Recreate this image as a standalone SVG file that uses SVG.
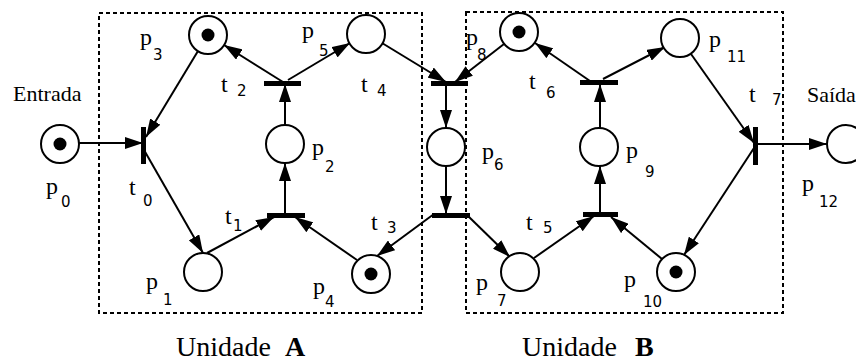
<svg xmlns="http://www.w3.org/2000/svg" width="856" height="362" viewBox="0 0 856 362">
<defs>
<marker id="ah" markerUnits="userSpaceOnUse" markerWidth="18" markerHeight="12" refX="18" refY="6" orient="auto">
<path d="M0,0 L18,6 L0,12 z" fill="#000"/>
</marker>
</defs>
<style>
.pl{fill:#fff;stroke:#000;stroke-width:2}
.tk{fill:#000}
.tr{fill:#000}
.arc{stroke:#000;stroke-width:2;fill:none;marker-end:url(#ah)}
.box{fill:none;stroke:#000;stroke-width:2;stroke-dasharray:4,3}
.lb{font-size:24px;fill:#000}
.sb{font-size:15px;fill:#000}
.tx{font-size:22px;fill:#000}
.un{font-size:28px;fill:#000}
.bd{font-weight:bold}
</style>
<rect class="box" x="99" y="13" width="323" height="300"/>
<rect class="box" x="466" y="12" width="317" height="301"/>
<g id="connectors">
<path class="arc" d="M79,143 L143,143"/>
<path class="arc" d="M198,51 L146,137"/>
<path class="arc" d="M144,150 L203,253"/>
<path class="arc" d="M207,253 L274,217"/>
<path class="arc" d="M357,260 L295,217"/>
<path class="arc" d="M285,213 L285,163"/>
<path class="arc" d="M285,125 L285,84"/>
<path class="arc" d="M283,82 L224,45"/>
<path class="arc" d="M288,80 L350,43"/>
<path class="arc" d="M382,43 L446,82"/>
<path class="arc" d="M504,44 L455,82"/>
<path class="arc" d="M446,86 L446,128"/>
<path class="arc" d="M446,166 L446,214"/>
<path class="arc" d="M434,214 L377,256"/>
<path class="arc" d="M468,216 L510,257"/>
<path class="arc" d="M534,258 L594,216"/>
<path class="arc" d="M662,259 L611,217"/>
<path class="arc" d="M600,212 L600,166"/>
<path class="arc" d="M600,128 L600,84"/>
<path class="arc" d="M590,81 L535,43"/>
<path class="arc" d="M603,79 L665,47"/>
<path class="arc" d="M691,54 L754,143"/>
<path class="arc" d="M754,148 L684,255"/>
<path class="arc" d="M757,144 L827,144"/>
</g>
<g font-family="Liberation Serif, Times New Roman, serif">
<g id="t0"><rect class="tr" x="141" y="127" width="5" height="37"/><text class="lb" x="129" y="195">t</text><text class="sb" font-family="DejaVu Sans, sans-serif" x="143" y="206">0</text></g>
<g id="t1"><rect class="tr" x="267" y="213" width="38" height="5"/><text class="lb" x="225" y="224">t</text><text class="sb" font-family="DejaVu Sans, sans-serif" x="233" y="231">1</text></g>
<g id="t2"><rect class="tr" x="264" y="81" width="37" height="5"/><text class="lb" x="221" y="92">t</text><text class="sb" font-family="DejaVu Sans, sans-serif" x="237" y="96">2</text></g>
<g id="t3"><rect class="tr" x="432" y="213" width="38" height="5"/><text class="lb" x="371" y="230">t</text><text class="sb" font-family="DejaVu Sans, sans-serif" x="387" y="233">3</text></g>
<g id="t4"><rect class="tr" x="431" y="81" width="37" height="5"/><text class="lb" x="361" y="92">t</text><text class="sb" font-family="DejaVu Sans, sans-serif" x="377" y="96">4</text></g>
<g id="t5"><rect class="tr" x="583" y="212" width="35" height="5"/><text class="lb" x="526" y="230">t</text><text class="sb" font-family="DejaVu Sans, sans-serif" x="543" y="233">5</text></g>
<g id="t6"><rect class="tr" x="580" y="80" width="38" height="5"/><text class="lb" x="529" y="89">t</text><text class="sb" font-family="DejaVu Sans, sans-serif" x="546" y="98">6</text></g>
<g id="t7"><rect class="tr" x="753" y="127" width="5" height="38"/><text class="lb" x="749" y="102">t</text><text class="sb" font-family="DejaVu Sans, sans-serif" x="772" y="105">7</text></g>
<g id="p0"><circle class="pl" cx="60" cy="144" r="19"/><circle class="tk" cx="60" cy="144" r="6.5"/><text class="lb" x="46" y="194">p</text><text class="sb" font-family="DejaVu Sans, sans-serif" x="61" y="207">0</text></g>
<g id="p1"><circle class="pl" cx="203" cy="272" r="19"/><text class="lb" x="146" y="289">p</text><text class="sb" font-family="DejaVu Sans, sans-serif" x="163" y="305">1</text></g>
<g id="p2"><circle class="pl" cx="285" cy="144" r="19"/><text class="lb" x="312" y="155">p</text><text class="sb" font-family="DejaVu Sans, sans-serif" x="325" y="172">2</text></g>
<g id="p3"><circle class="pl" cx="208" cy="35" r="19"/><circle class="tk" cx="208" cy="35" r="6.5"/><text class="lb" x="140" y="45">p</text><text class="sb" font-family="DejaVu Sans, sans-serif" x="153" y="60">3</text></g>
<g id="p4"><circle class="pl" cx="371" cy="274" r="19"/><circle class="tk" cx="371" cy="274" r="6.5"/><text class="lb" x="313" y="294">p</text><text class="sb" font-family="DejaVu Sans, sans-serif" x="325" y="307">4</text></g>
<g id="p5"><circle class="pl" cx="366" cy="34" r="19"/><text class="lb" x="302" y="38">p</text><text class="sb" font-family="DejaVu Sans, sans-serif" x="319" y="56">5</text></g>
<g id="p6"><circle class="pl" cx="446" cy="147" r="19"/><text class="lb" x="482" y="159">p</text><text class="sb" font-family="DejaVu Sans, sans-serif" x="494" y="170">6</text></g>
<g id="p7"><circle class="pl" cx="520" cy="272" r="19"/><text class="lb" x="476" y="290">p</text><text class="sb" font-family="DejaVu Sans, sans-serif" x="497" y="306">7</text></g>
<g id="p8"><circle class="pl" cx="519" cy="32" r="19"/><circle class="tk" cx="519" cy="32" r="6.5"/><text class="lb" x="466" y="45">p</text><text class="sb" font-family="DejaVu Sans, sans-serif" x="477" y="60">8</text></g>
<g id="p9"><circle class="pl" cx="599" cy="147" r="19"/><text class="lb" x="626" y="158">p</text><text class="sb" font-family="DejaVu Sans, sans-serif" x="645" y="177">9</text></g>
<g id="p10"><circle class="pl" cx="676" cy="272" r="19"/><circle class="tk" cx="676" cy="272" r="6.5"/><text class="lb" x="624" y="287">p</text><text class="sb" font-family="DejaVu Sans, sans-serif" x="643" y="307">10</text></g>
<g id="p11"><circle class="pl" cx="680" cy="38" r="19"/><text class="lb" x="709" y="47">p</text><text class="sb" font-family="DejaVu Sans, sans-serif" x="727" y="62">11</text></g>
<g id="p12"><circle class="pl" cx="846" cy="144" r="19"/><text class="lb" x="802" y="191">p</text><text class="sb" font-family="DejaVu Sans, sans-serif" x="819" y="207">12</text></g>
<text class="tx" x="13" y="101">Entrada</text>
<text class="tx" x="807" y="102">Saída</text>
<text class="un" x="176" y="356">Unidade</text><text class="un bd" x="285" y="356">A</text>
<text class="un" x="522" y="356">Unidade</text><text class="un bd" x="635" y="356">B</text>
</g>
</svg>
